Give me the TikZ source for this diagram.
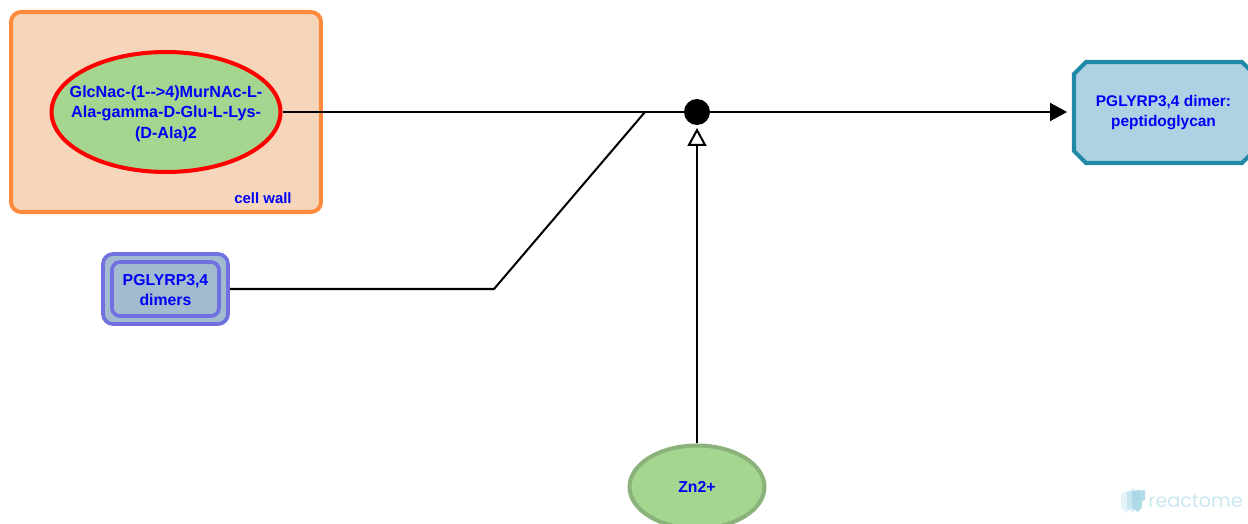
\documentclass[tikz,border=0pt]{standalone}
\usepackage{fontspec}
\setmainfont{Liberation Sans}
\newfontfamily\logofont{Poppins}
\usetikzlibrary{arrows.meta,shapes.geometric}
\definecolor{labelblue}{HTML}{0000F5}
\definecolor{wallfill}{HTML}{F5D6BA}
\definecolor{wallline}{HTML}{FF8A3D}
\definecolor{molfill}{HTML}{A5D68F}
\definecolor{molline}{HTML}{8BB27B}
\definecolor{cplxfill}{HTML}{A2BBD0}
\definecolor{cplxline}{HTML}{7070E0}
\definecolor{prodfill}{HTML}{AED2E4}
\definecolor{prodline}{HTML}{2389A8}
\definecolor{logoblue}{HTML}{A5D6E6}
\tikzset{
  label text/.style={text=labelblue, font=\fontsize{9}{11.7}\selectfont\bfseries, align=center},
  molecule/.style={ellipse, draw, fill=molfill, line width=2.3pt, inner sep=-0.8cm},
  complex box/.style={draw=cplxline, fill=cplxfill, line width=2.1pt, inner sep=0pt},
  reaction line/.style={draw=black, line width=1.15pt},
}
\begin{document}
\begin{tikzpicture}[x=0.02cm, y=-0.02cm]
        \useasboundingbox (0,0) rectangle (1248,524);
        \clip (0,0) rectangle (1248,524);

        % Compartment
        \node[draw=wallline, fill=wallfill, line width=2.3pt, rounded corners=0.2cm,
          minimum width=6.2cm, minimum height=4cm, inner sep=0pt] (wall) at (166,112) {};
        \node[label text, font=\fontsize{8.5}{11.6}\selectfont\bfseries] (walllabel) at (263,198) {cell wall};

        % Entities
        \node[molecule, draw=red, minimum width=4.58cm, minimum height=2.4cm] (glcnac) at (166,112) {};
        \node[label text, font=\fontsize{9.2}{11.7}\selectfont\bfseries] (glcnaclabel) at (166,113.5)
          {GlcNac-(1-{}->4)MurNAc-L-\\Ala-gamma-D-Glu-L-Lys-\\(D-Ala)2};
        \node[complex box, rounded corners=0.2cm, minimum width=2.5cm, minimum height=1.4cm] (dimers) at (165.5,289) {};
        \node[complex box, rounded corners=0.16cm, minimum width=2.14cm, minimum height=1.08cm] (dimersin) at (165.5,289) {};
        \node[label text] (dimerslabel) at (165.5,290) {PGLYRP3,4\\dimers};
        \node[molecule, draw=molline, minimum width=2.7cm, minimum height=1.66cm, label text] (zinc) at (697,487) {Zn2+};

        % Product, runs off the right edge
        \draw[draw=prodline, fill=prodfill, line width=2.3pt]
          (1086,62) -- (1242,62) -- (1254,74) -- (1254,151) -- (1242,163) -- (1086,163) -- (1074,151) -- (1074,74) -- cycle;
        \node[label text, font=\fontsize{8.8}{11.7}\selectfont\bfseries] (product) at (1163.5,112.5) {PGLYRP3,4 dimer:\\peptidoglycan};

        % Reaction point
        \node[circle, fill=black, minimum size=0.52cm, inner sep=0pt] (dot) at (697,112) {};
        \coordinate (bend) at (494,289);
        \coordinate (merge) at (645,112);
        \coordinate (tip) at (1067,112);
        \coordinate (cattip) at (697,128);

        % Connectors
        \draw[reaction line] (glcnac.east) -- (dot);
        \draw[reaction line] (dimers.east) -- (bend) -- (merge);
        \draw[reaction line, -{Triangle[length=0.34cm, width=0.36cm]}] (dot) -- (tip);
        \draw[reaction line, -{Triangle[open, fill=white, length=0.36cm, width=0.38cm]}] (zinc.north) -- (cattip);

        % Logo
        \foreach \dx/\op in {0/0.3, 6/0.45, 11/0.85} {
          \fill[logoblue, opacity=\op] (1121+\dx,494-\dx*0.3) -- (1134+\dx,488+\dx*0.2) -- (1134+\dx,500) -- (1131+\dx,501) -- (1131+\dx,507) -- (1127+\dx,513-\dx*0.1) -- (1121+\dx,508) -- cycle;
        }
        \node[text=logoblue!60, font=\logofont\fontsize{10.9}{14}\selectfont, anchor=west, inner sep=0pt] (logo) at (1148,501) {reactome};
      \end{tikzpicture}
\end{document}
